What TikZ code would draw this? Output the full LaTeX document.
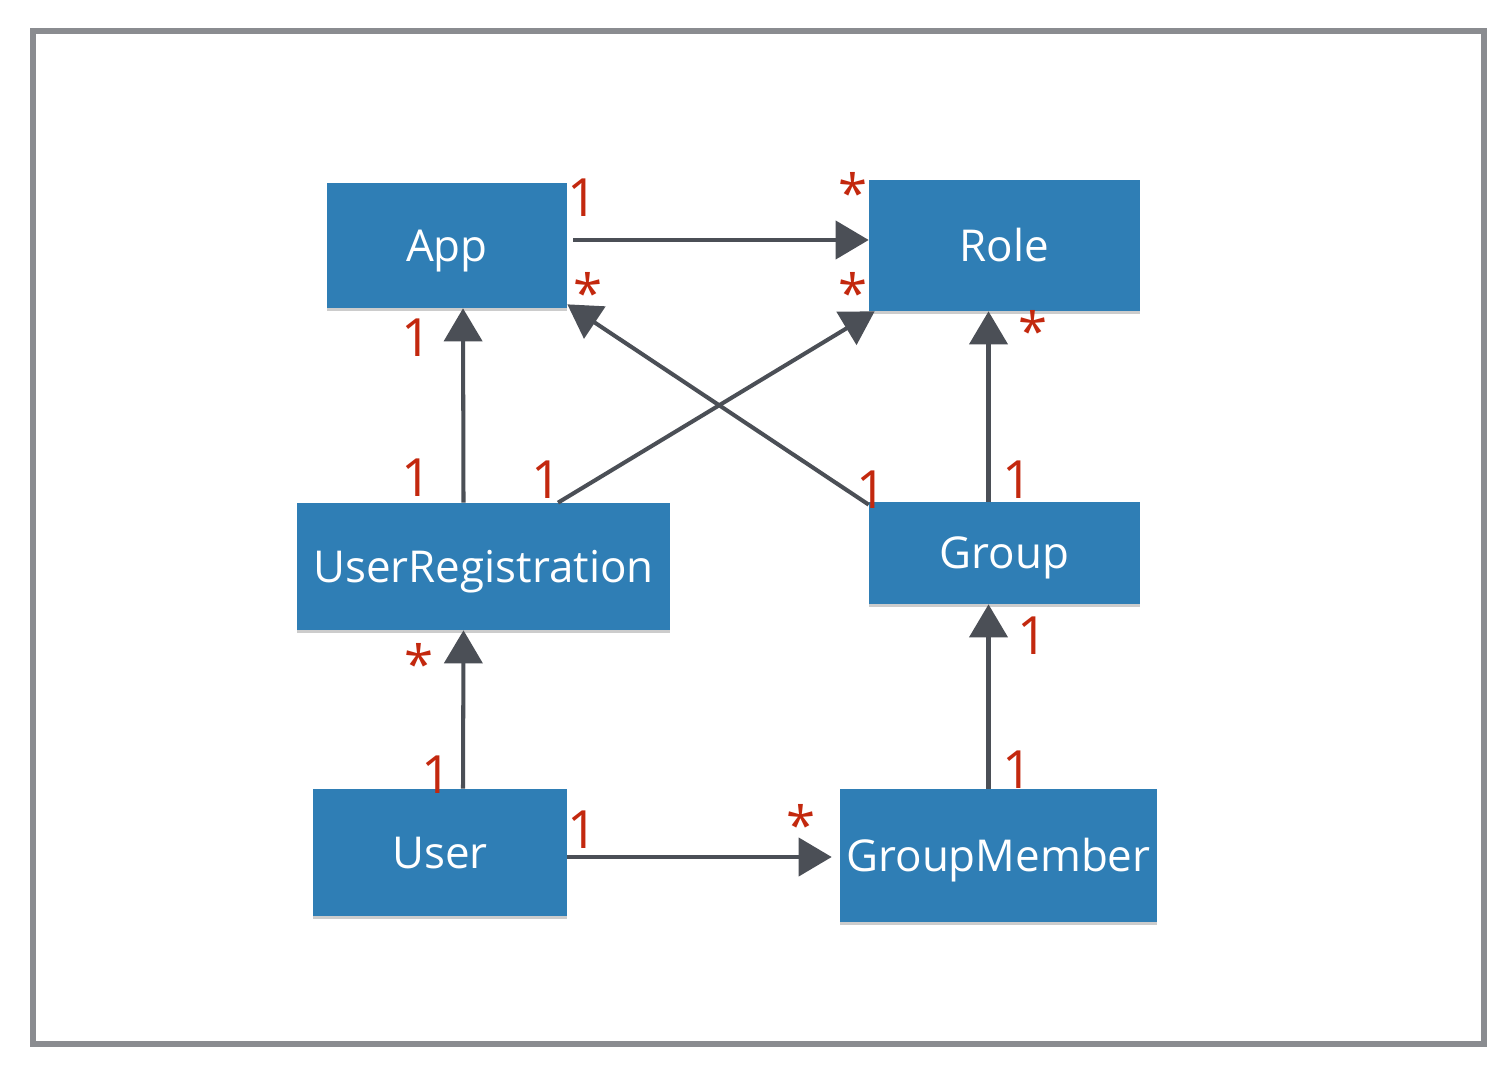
\documentclass[tikz,border=0pt]{standalone}
\usepackage{fontspec}
\setmainfont{Open Sans}
\usetikzlibrary{arrows.meta,calc,shadows}
\definecolor{boxblue}{HTML}{2F7EB5}
\definecolor{arrowgray}{HTML}{4B4F56}
\definecolor{framegray}{HTML}{8A8C90}
\definecolor{labelred}{HTML}{C3280E}
\begin{document}
\begin{tikzpicture}[x=0.02cm,y=-0.02cm,
  entity/.style={draw=none,fill=boxblue,text=white,inner sep=0pt,
    font=\fontsize{25pt}{30pt}\selectfont,text height=18pt,text depth=0pt,
    drop shadow={shadow xshift=0pt,shadow yshift=-1.5pt,opacity=0.2,fill=black}},
  assoc/.style={draw=arrowgray,line width=2.3pt,
    -{Triangle[length=0.66cm,width=0.76cm]}},
  mult/.style={text=labelred,inner sep=0pt,font=\fontsize{30pt}{36pt}\selectfont},
  multstar/.style={mult,yshift=-5pt}]
\useasboundingbox (0,0) rectangle (1510,1070);
\fill[white] (0,0) rectangle (1510,1070);
\draw[framegray,line width=3pt] (33,31) rectangle (1484,1044);

\node[entity,minimum width=4.8cm,minimum height=2.5cm] (App) at (447,245.5) {App};
\node[entity,minimum width=5.42cm,minimum height=2.62cm] (Role) at (1004.5,245.5) {Role};
\node[entity,minimum width=7.46cm,minimum height=2.54cm] (UR) at (483.5,566.5) {UserRegistration};
\node[entity,minimum width=5.42cm,minimum height=2.04cm] (Group) at (1004.5,553) {Group};
\node[entity,minimum width=5.08cm,minimum height=2.54cm] (User) at (440,852.5) {User};
\node[entity,minimum width=6.34cm,minimum height=2.66cm] (GM) at (998.5,855.5) {GroupMember};

\draw[assoc] ($(App.east)+(6,-5.5)$) -- ($(Role.west)+(0,-5.5)$);
\draw[assoc] ($(UR.north)+(-20,0)$) -- ($(App.south)+(16,0)$);
\draw[assoc] ($(UR.north)+(74.5,0)$) -- ($(Role.south west)+(6,0)$);
\draw[assoc] ($(Group.north west)+(0,3)$) -- ($(App.south east)+(0,-4)$);
\draw[assoc] ($(Group.north)+(-16,0)$) -- ($(Role.south)+(-16,0)$);
\draw[assoc] ($(User.north)+(23,0)$) -- ($(UR.south)+(-20,0)$);
\draw[assoc] ($(GM.north)+(-10,0)$) -- ($(Group.south)+(-16,0)$);
\draw[assoc] ($(User.east)+(0,4.5)$) -- ($(GM.west)+(-8,1.5)$);

\node[mult] (m1) at (583,198) {1};
\node[multstar] (m2) at (853,184) {*};
\node[mult] (m3) at (417,338) {1};
\node[mult] (m4) at (417,478) {1};
\node[mult] (m5) at (547,480) {1};
\node[multstar] (m6) at (853,284) {*};
\node[mult] (m7) at (872,490) {1};
\node[multstar] (m8) at (588,284) {*};
\node[mult] (m9) at (1018,480) {1};
\node[multstar] (m10) at (1033,322) {*};
\node[mult] (m11) at (437,775) {1};
\node[multstar] (m12) at (419,655) {*};
\node[mult] (m13) at (1018,770) {1};
\node[mult] (m14) at (1033,636) {1};
\node[mult] (m15) at (583,830) {1};
\node[multstar] (m16) at (801,816) {*};
\end{tikzpicture}
\end{document}
